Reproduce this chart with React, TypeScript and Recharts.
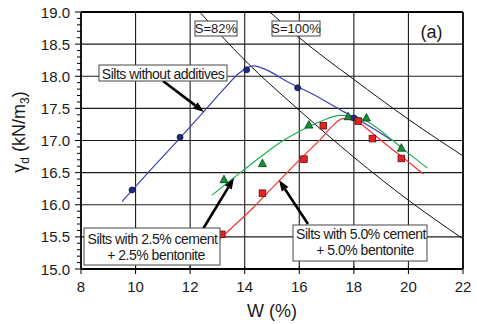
import React from "react";
import {
  ComposedChart,
  XAxis,
  YAxis,
  Line,
  Scatter,
  ReferenceLine,
} from "recharts";

// measured points
const plainPts = [
  { x: 9.87, y: 16.23 },
  { x: 11.63, y: 17.05 },
  { x: 14.07, y: 18.1 },
  { x: 15.94, y: 17.82 },
  { x: 18.0, y: 17.35 },
];
const mix25Pts = [
  { x: 13.24, y: 16.39 },
  { x: 14.65, y: 16.64 },
  { x: 16.35, y: 17.24 },
  { x: 17.79, y: 17.37 },
  { x: 18.46, y: 17.35 },
  { x: 19.74, y: 16.88 },
];
const mix50Pts = [
  { x: 13.16, y: 15.54 },
  { x: 14.65, y: 16.18 },
  { x: 16.17, y: 16.71 },
  { x: 16.88, y: 17.23 },
  { x: 18.16, y: 17.3 },
  { x: 18.68, y: 17.03 },
  { x: 19.74, y: 16.72 },
];

// fitted curves
const plainFit = [
  { x: 9.5, y: 16.05 },
  { x: 10.5, y: 16.52 },
  { x: 11.5, y: 16.98 },
  { x: 12.5, y: 17.45 },
  { x: 13.3, y: 17.83 },
  { x: 13.8, y: 18.05 },
  { x: 14.3, y: 18.16 },
  { x: 14.8, y: 18.1 },
  { x: 15.5, y: 17.93 },
  { x: 16.5, y: 17.72 },
  { x: 17.5, y: 17.48 },
  { x: 18.5, y: 17.24 },
  { x: 19.4, y: 17.0 },
];
const mix25Fit = [
  { x: 12.8, y: 16.15 },
  { x: 13.6, y: 16.42 },
  { x: 14.5, y: 16.72 },
  { x: 15.3, y: 16.97 },
  { x: 16.0, y: 17.14 },
  { x: 16.8, y: 17.3 },
  { x: 17.5, y: 17.39 },
  { x: 18.0, y: 17.38 },
  { x: 18.6, y: 17.27 },
  { x: 19.2, y: 17.08 },
  { x: 19.8, y: 16.87 },
  { x: 20.7, y: 16.57 },
];
const mix50Fit = [
  { x: 13.05, y: 15.45 },
  { x: 13.5, y: 15.63 },
  { x: 14.3, y: 15.95 },
  { x: 15.0, y: 16.26 },
  { x: 15.6, y: 16.52 },
  { x: 16.2, y: 16.78 },
  { x: 16.8, y: 17.03 },
  { x: 17.2, y: 17.22 },
  { x: 17.6, y: 17.34 },
  { x: 18.1, y: 17.3 },
  { x: 18.6, y: 17.14 },
  { x: 19.2, y: 16.93 },
  { x: 19.9, y: 16.7 },
  { x: 20.55, y: 16.48 },
];

// saturation lines
const sat82 = [
  { x: 12.35, y: 19.0 },
  { x: 14, y: 18.25 },
  { x: 16, y: 17.47 },
  { x: 18, y: 16.74 },
  { x: 20, y: 16.07 },
  { x: 22, y: 15.47 },
];
const sat100 = [
  { x: 14.92, y: 19.0 },
  { x: 16, y: 18.6 },
  { x: 18, y: 17.95 },
  { x: 20, y: 17.33 },
  { x: 22, y: 16.76 },
];

const xTicks = [8, 10, 12, 14, 16, 18, 20, 22];
const yMajor = [15, 15.5, 16, 16.5, 17, 17.5, 18, 18.5, 19];
const yTicks = Array.from({ length: 41 }, (_, i) => Math.round((15 + i * 0.1) * 10) / 10);

const FONT = '"Liberation Sans", Arial, sans-serif';
const INK = "#1a1a1a";

const YTick = (p: any) => {
  const v = p.payload.value;
  const major = yMajor.includes(v);
  return (
    <g>
      <line x1={p.x - (major ? 6 : 4)} x2={p.x} y1={p.y} y2={p.y} stroke="#000" />
      {major && (
        <text x={p.x - 11} y={p.y + 5.5} textAnchor='end' fontSize={15} fill={INK} fontFamily={FONT}>
          {v.toFixed(1)}
        </text>
      )}
    </g>
  );
};

const XTick = (p: any) => (
  <g>
    <line x1={p.x} x2={p.x} y1={p.y - 3} y2={p.y + 5} stroke="#000" />
    <text x={p.x} y={p.y + 23} textAnchor='middle' fontSize={15} fill={INK} fontFamily={FONT}>
      {p.payload.value}
    </text>
  </g>
);

const Dot = (p: any) => (
  <circle cx={p.cx} cy={p.cy} r={3} fill='#1f2a7c' stroke='#10164a' strokeWidth={0.8} />
);
const Tri = (p: any) => (
  <polygon
    points={`${p.cx},${p.cy - 4.5} ${p.cx - 4},${p.cy + 3} ${p.cx + 4},${p.cy + 3}`}
    fill='#14903a'
    stroke='#063d18'
    strokeWidth={0.8}
  />
);
const Sq = (p: any) => (
  <rect x={p.cx - 3.3} y={p.cy - 3.3} width={6.6} height={6.6} fill='#e42424' stroke='#6e0a0a' strokeWidth={0.8} />
);

function Arrow({ x1, y1, x2, y2 }: { x1: number; y1: number; y2: number; x2: number }) {
  const a = Math.atan2(y2 - y1, x2 - x1);
  const len = 11;
  const w = 4;
  const bx = x2 - len * Math.cos(a);
  const by = y2 - len * Math.sin(a);
  const px = -Math.sin(a) * w;
  const py = Math.cos(a) * w;
  return (
    <g>
      <line x1={x1} y1={y1} x2={bx} y2={by} stroke='#000' strokeWidth={2.6} />
      <polygon points={`${x2},${y2} ${bx + px},${by + py} ${bx - px},${by - py}`} fill='#000' />
    </g>
  );
}

function Box({ x, y, w, h, lines, size = 14 }: { x: number; y: number; w: number; h: number; lines: [string, number, number][]; size?: number }) {
  return (
    <g>
      <rect x={x} y={y} width={w} height={h} fill='#fff' stroke='#444' strokeWidth={1} />
      {lines.map(([t, cx, by], i) => (
        <text key={i} x={cx} y={by} textAnchor='middle' fontSize={size} fill={INK} fontFamily={FONT} letterSpacing={size > 13 ? -0.5 : 0}>
          {t}
        </text>
      ))}
    </g>
  );
}

export default function App() {
  return (
    <div style={{ position: "absolute", left: 0, top: 0, width: 477, height: 324, background: "#fff" }}>
      <ComposedChart width={477} height={324} margin={{ top: 12, right: 14, bottom: 0, left: 0 }}>
        <XAxis
          type='number'
          dataKey='x'
          domain={[8, 22]}
          ticks={xTicks}
          allowDataOverflow
          axisLine={false}
          tickLine={false}
          tickSize={0}
          tickMargin={0}
          height={55}
          tick={<XTick />}
          interval={0}
        />
        <YAxis
          type='number'
          dataKey='y'
          domain={[15, 19]}
          ticks={yTicks}
          allowDataOverflow
          axisLine={false}
          tickLine={false}
          tickSize={0}
          tickMargin={0}
          width={81}
          tick={<YTick />}
          interval={0}
        />
        {xTicks.slice(1, -1).map((v) => (
          <ReferenceLine key={"gx" + v} x={v} stroke='#1c1c1c' strokeWidth={1.1} />
        ))}
        {yMajor.slice(1, -1).map((v) => (
          <ReferenceLine key={"gy" + v} y={v} stroke='#1c1c1c' strokeWidth={1.1} />
        ))}
        <Line data={sat82} dataKey='y' type='monotone' stroke='#111' strokeWidth={1} dot={false} isAnimationActive={false} />
        <Line data={sat100} dataKey='y' type='monotone' stroke='#111' strokeWidth={1} dot={false} isAnimationActive={false} />
        <Line data={plainFit} dataKey='y' type='monotone' stroke='#3b3fb8' strokeWidth={1.2} dot={false} isAnimationActive={false} />
        <Line data={mix25Fit} dataKey='y' type='monotone' stroke='#18b04a' strokeWidth={1.2} dot={false} isAnimationActive={false} />
        <Line data={mix50Fit} dataKey='y' type='monotone' stroke='#f03434' strokeWidth={1.2} dot={false} isAnimationActive={false} />
        <Scatter data={plainPts} dataKey='y' shape={<Dot />} isAnimationActive={false} />
        <Scatter data={mix25Pts} dataKey='y' shape={<Tri />} isAnimationActive={false} />
        <Scatter data={mix50Pts} dataKey='y' shape={<Sq />} isAnimationActive={false} />
        <ReferenceLine x={8} stroke='#000' strokeWidth={1.8} />
        <ReferenceLine x={22} stroke='#000' strokeWidth={1.8} />
        <ReferenceLine y={15} stroke='#000' strokeWidth={1.8} />
        <ReferenceLine y={19} stroke='#000' strokeWidth={1.8} />
      </ComposedChart>
      <svg width={477} height={324} style={{ position: "absolute", left: 0, top: 0, pointerEvents: "none" }}>
        <Box x={195} y={21} w={42} h={15} size={13} lines={[["S=82%", 216, 33]]} />
        <Box x={272} y={21} w={48} h={15} size={13} lines={[["S=100%", 296, 33]]} />
        <text x={431.5} y={38} textAnchor='middle' fontSize={18} fill={INK} fontFamily={FONT}>
          (a)
        </text>
        <Arrow x1={163} y1={81} x2={204} y2={112} />
        <Box x={99} y={65} w={128} h={16} lines={[["Silts without additives", 163, 78.5]]} />
        <Arrow x1={203} y1={229} x2={234} y2={178} />
        <Box
          x={84}
          y={228}
          w={136}
          h={37}
          lines={[
            ["Silts with 2.5% cement", 152.5, 244],
            ["+ 2.5% bentonite", 156, 260],
          ]}
        />
        <Arrow x1={308} y1={224} x2={279} y2={180} />
        <Box
          x={293}
          y={225}
          w={134}
          h={36}
          lines={[
            ["Silts with 5.0% cement", 361, 238.5],
            ["+ 5.0% bentonite", 365, 255],
          ]}
        />
        <text x={272} y={317} textAnchor='middle' fontSize={18} fill={INK} fontFamily={FONT}>
          W (%)
        </text>
        <text transform='rotate(-90, 25, 132)' x={25} y={132} textAnchor='middle' fontSize={18} fill={INK} fontFamily={FONT}>
          γ
          <tspan fontSize={12} dy={4}>d</tspan>
          <tspan dy={-4}> (kN/m</tspan>
          <tspan fontSize={12} dy={4}>3</tspan>
          <tspan dy={-4}>)</tspan>
        </text>
      </svg>
    </div>
  );
}
